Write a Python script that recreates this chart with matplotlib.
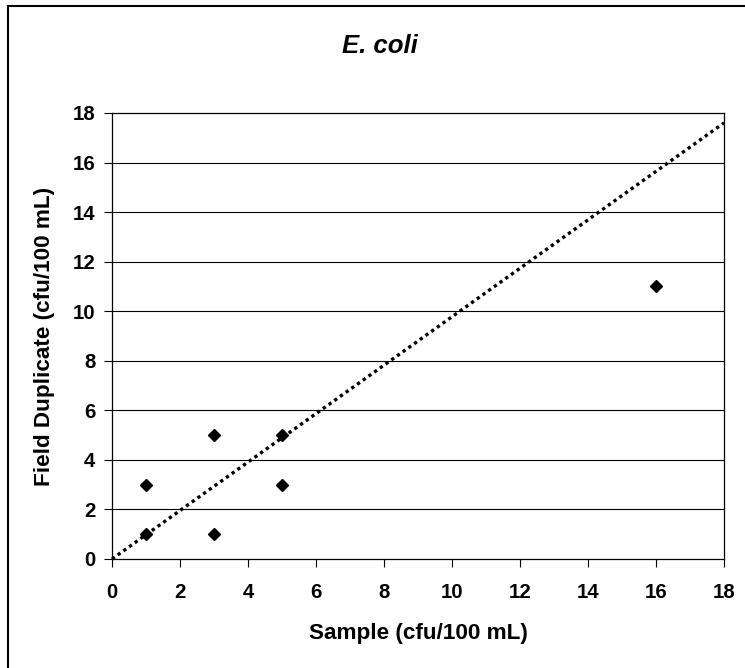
import matplotlib
matplotlib.use("Agg")
import matplotlib.pyplot as plt
from matplotlib.patches import Rectangle

plt.rcParams['font.family'] = ['Liberation Sans', 'DejaVu Sans']

# Data
sample = [1, 1, 3, 3, 5, 5, 16]
duplicate = [1, 3, 5, 1, 5, 3, 11]
line_x = [0, 18]
line_y = [0, 17.6]
ticks = [0, 2, 4, 6, 8, 10, 12, 14, 16, 18]
title = "E. coli"
xlabel = "Sample (cfu/100 mL)"
ylabel = "Field Duplicate (cfu/100 mL)"

W, H = 745, 668
fig = plt.figure(figsize=(W / 100, H / 100), dpi=100)
fig.patch.set_facecolor('white')

# Outer chart border
fig.add_artist(Rectangle((8 / W, -6 / H), (760 - 8) / W, (H - 6 + 6) / H,
                         transform=fig.transFigure, fill=False,
                         edgecolor='black', linewidth=1.5))

ax = fig.add_axes([112 / W, (H - 559) / H, (724 - 112) / W, (559 - 113) / H])
ax.set_xlim(0, 18)
ax.set_ylim(0, 18)
ax.set_xticks(ticks)
ax.set_yticks(ticks)
ax.set_xticklabels([str(t) for t in ticks])
ax.set_yticklabels([str(t) for t in ticks])
for t in ticks[1:-1]:
    ax.axhline(t, color='black', linewidth=0.8, zorder=1)

ax.plot(line_x, line_y, color='black', linewidth=2.4, linestyle=(0, (1, 1.1)),
        zorder=2, clip_on=False)
ax.plot(sample, duplicate, linestyle='none', marker='D', markersize=6.5,
        color='black', zorder=3, clip_on=False)

for s in ax.spines.values():
    s.set_color('black')
    s.set_linewidth(0.9)

ax.tick_params(axis='both', direction='out', length=5.5, width=0.8,
               labelsize=14.7, colors='black')
ax.tick_params(axis='x', pad=11.5)
ax.tick_params(axis='y', pad=6.5)
for lab in ax.get_xticklabels() + ax.get_yticklabels():
    lab.set_fontweight('bold')

fig.text(380 / W, 1 - 53 / H, title, ha='center', va='baseline',
         fontsize=18.5, fontweight='bold', fontstyle='italic')
fig.text(418 / W, 1 - 639 / H, xlabel, ha='center', va='baseline',
         fontsize=16.2, fontweight='bold')
fig.text(45 / W, 1 - 336 / H, ylabel, ha='center', va='center',
         rotation=90, fontsize=16.2, fontweight='bold')

fig.savefig('out.png', dpi=100, facecolor='white')
